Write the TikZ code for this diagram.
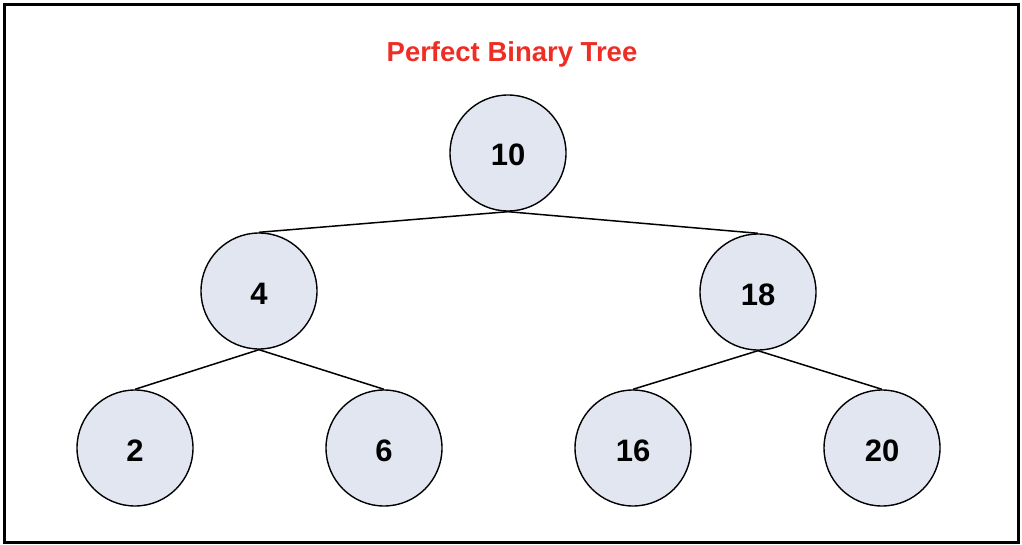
\documentclass[tikz,border=0pt]{standalone}
\usepackage{fontspec}
\setmainfont{Liberation Sans}
\definecolor{nodefill}{RGB}{225,230,240}
\definecolor{titlered}{RGB}{238,45,36}
\begin{document}
\begin{tikzpicture}[x=1pt,y=-1pt,
  treenode/.style={circle,draw=black,line width=1.4pt,fill=nodefill,minimum size=116pt,inner sep=0pt,text height=26pt,text depth=0pt,font=\fontsize{31}{36}\selectfont\bfseries},
  edge/.style={draw=black,line width=1.5pt}]
\useasboundingbox (0,0) rectangle (1022,545);
\draw[line width=3pt] (4.5,4.5) rectangle (1018.5,542);
\node[font=\fontsize{27.5}{32}\selectfont\bfseries,text=titlered] (title) at (512,54.5) {Perfect Binary Tree};
\node[treenode] (n10) at (508,153) {10};
\node[treenode] (n4) at (259,291) {4};
\node[treenode] (n18) at (758,292) {18};
\node[treenode] (n2) at (135,448) {2};
\node[treenode] (n6) at (384,448) {6};
\node[treenode] (n16) at (633,448) {16};
\node[treenode] (n20) at (882,448) {20};
\draw[edge] (n10.south) -- (n4.north);
\draw[edge] (n10.south) -- (n18.north);
\draw[edge] (n4.south) -- (n2.north);
\draw[edge] (n4.south) -- (n6.north);
\draw[edge] (n18.south) -- (n16.north);
\draw[edge] (n18.south) -- (n20.north);
\end{tikzpicture}
\end{document}
